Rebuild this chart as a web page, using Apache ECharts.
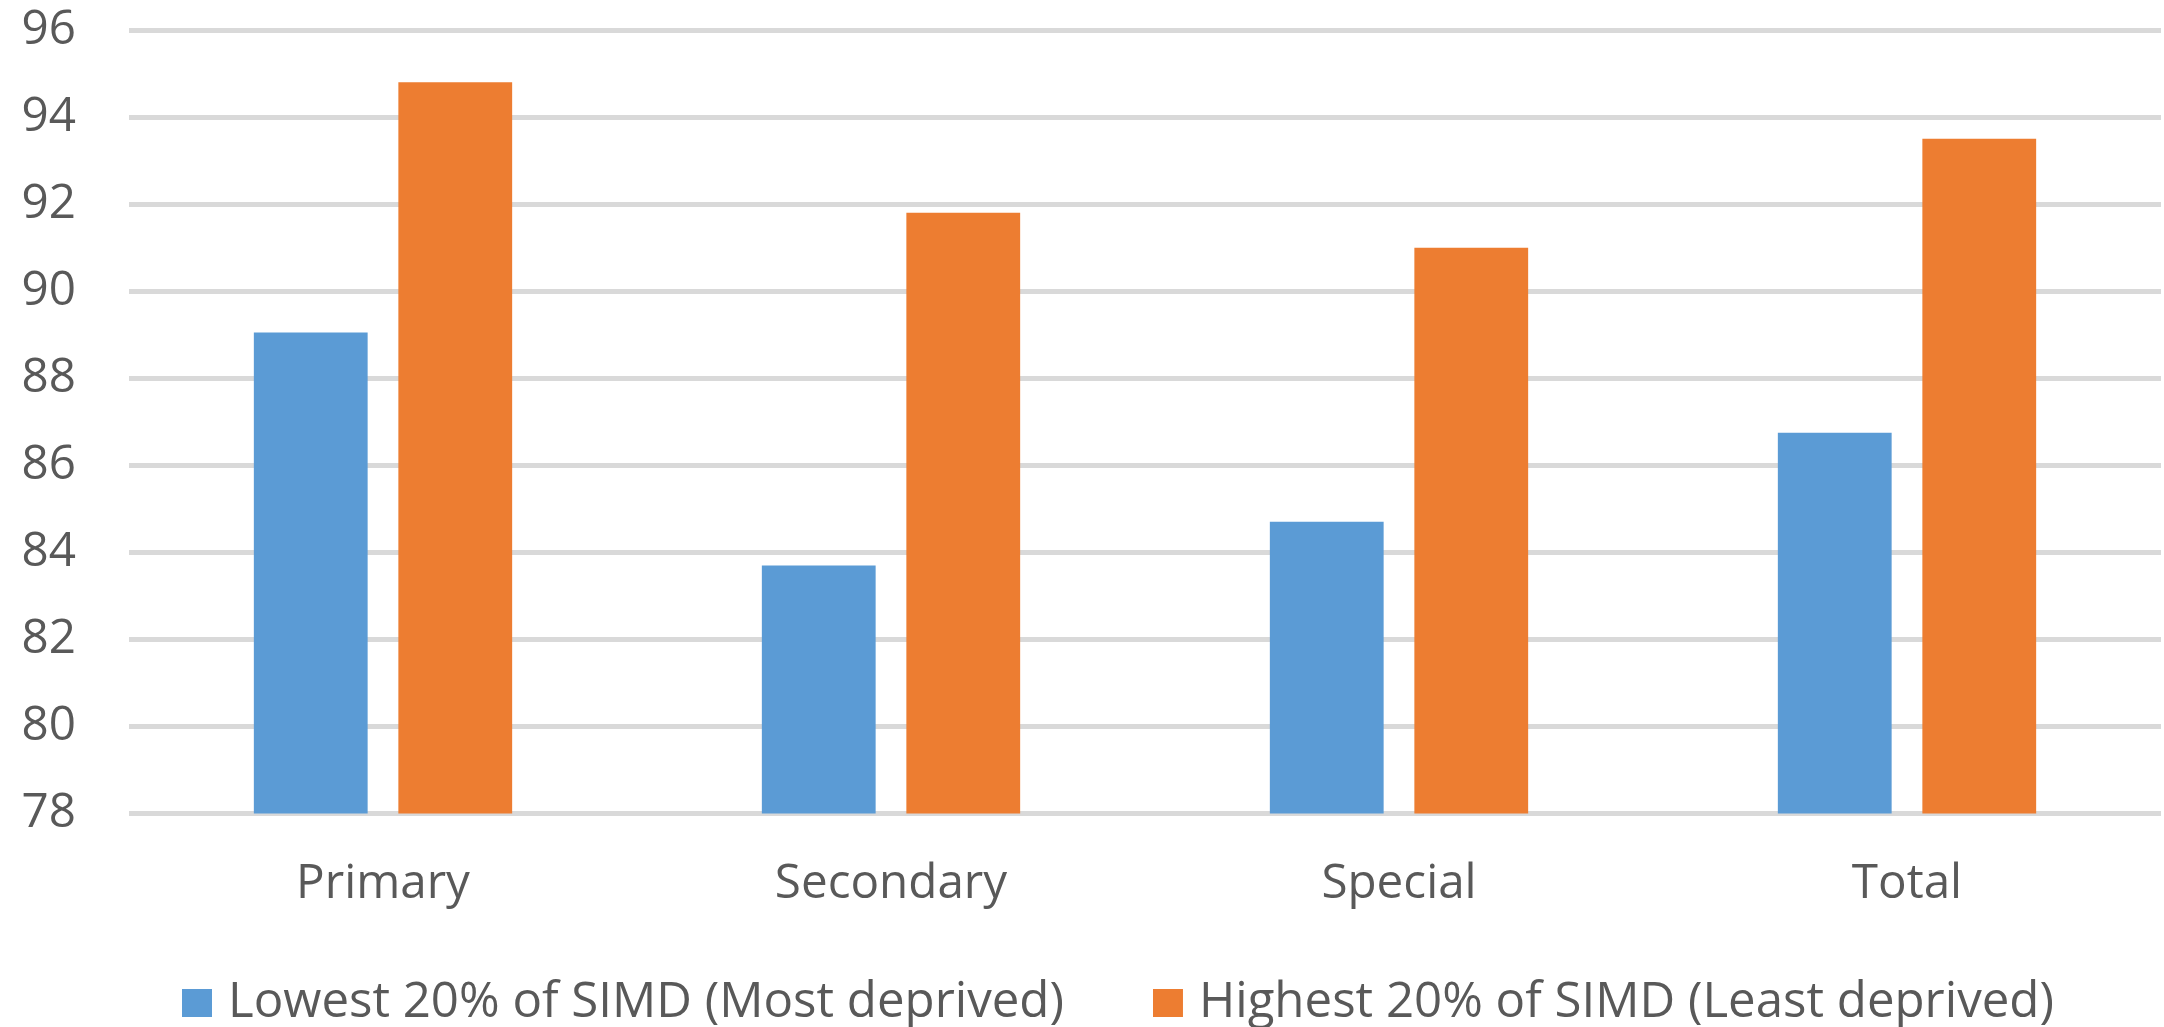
<!DOCTYPE html>
<html>
<head>
<meta charset="utf-8">
<script src="https://cdn.jsdelivr.net/npm/echarts@6/dist/echarts.min.js"></script>
<style>
  html, body { margin: 0; padding: 0; background: #ffffff; }
  #chart { width: 2164px; height: 1027px; }
</style>
</head>
<body>
<div id="chart"></div>
<script>
// School type categories
const categories = ['Primary', 'Secondary', 'Special', 'Total'];

// Series names
const seriesNames = ['Lowest 20% of SIMD (Most deprived)', 'Highest 20% of SIMD (Least deprived)'];

// Values per category
const lowestValues = [89.05, 83.7, 84.7, 86.75];
const highestValues = [94.8, 91.8, 91.0, 93.5];

// Value axis range
const yMin = 78;
const yMax = 96;
const yStep = 2;

const textColor = '#595959';
const fontFamily = '"Open Sans", "Liberation Sans", sans-serif';
const fontSize = 47.6;

const chart = echarts.init(document.getElementById('chart'), null, { renderer: 'canvas' });

chart.setOption({
  animation: false,
  backgroundColor: '#ffffff',
  color: ['#5B9BD5', '#ED7D31'],
  grid: { left: 129, right: 3, top: 30, bottom: 213.5, containLabel: false },
  legend: {
    data: seriesNames,
    left: 177,
    top: 970,
    itemWidth: 30,
    itemHeight: 28,
    itemGap: 89,
    icon: 'rect',
    textStyle: {
      color: textColor,
      fontFamily: fontFamily,
      fontSize: 49.2,
      lineHeight: 56,
      padding: [0, 0, 0, 11]
    }
  },
  xAxis: {
    type: 'category',
    data: categories,
    axisLine: { show: false },
    axisTick: { show: false },
    axisLabel: {
      color: textColor,
      fontFamily: fontFamily,
      fontSize: fontSize,
      lineHeight: 48,
      margin: 47
    }
  },
  yAxis: {
    type: 'value',
    min: yMin,
    max: yMax,
    interval: yStep,
    axisLine: { show: false },
    axisTick: { show: false },
    splitLine: { show: true, lineStyle: { color: '#D9D9D9', width: 5 } },
    axisLabel: {
      color: textColor,
      fontFamily: fontFamily,
      fontSize: fontSize,
      margin: 53
    }
  },
  series: [
    {
      name: seriesNames[0],
      type: 'bar',
      data: lowestValues,
      barWidth: '22.4%',
      barGap: '27%'
    },
    {
      name: seriesNames[1],
      type: 'bar',
      data: highestValues,
      barWidth: '22.4%',
      barGap: '27%'
    }
  ]
});
</script>
</body>
</html>
